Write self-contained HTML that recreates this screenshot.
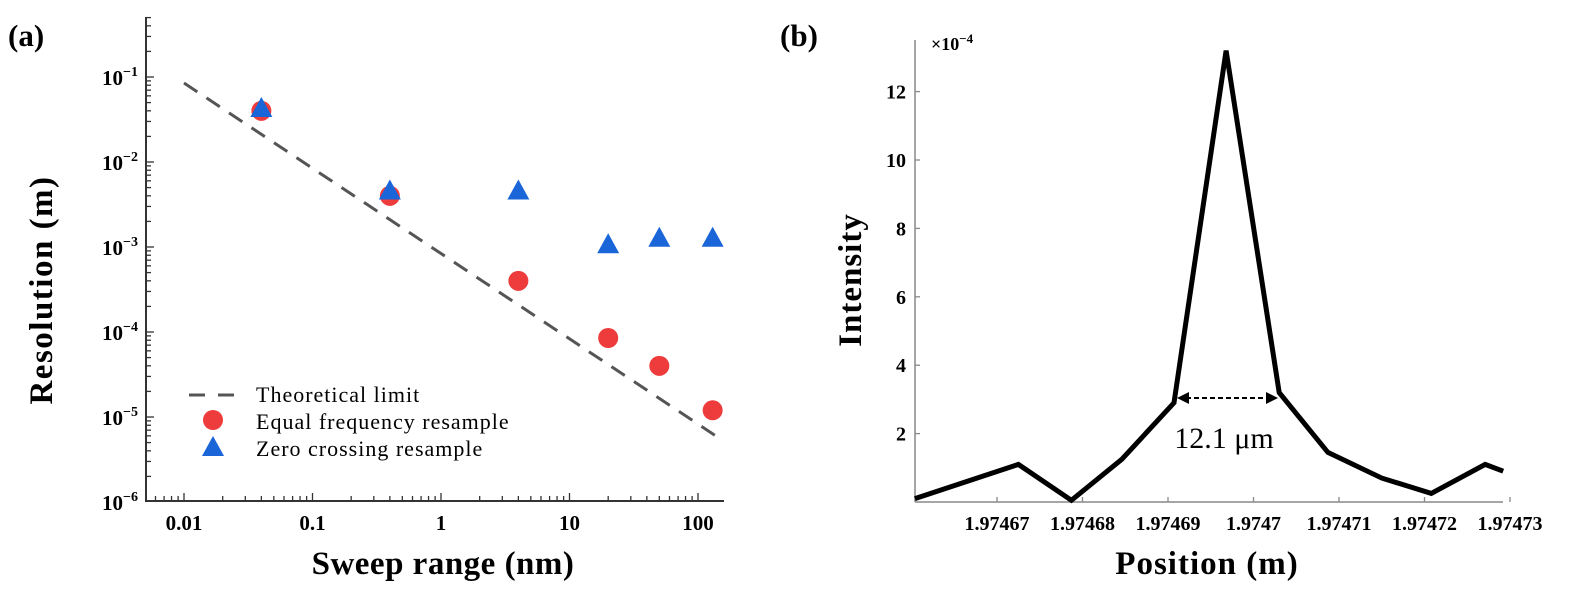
<!DOCTYPE html>
<html><head><meta charset="utf-8"><style>
body{margin:0;background:#fff}
svg{display:block;font-family:"Liberation Serif",serif}
</style></head><body>
<svg id="fig" width="1570" height="594" viewBox="0 0 1570 594">
<text x="8" y="46" font-size="31" font-weight="bold">(a)</text>
<text x="780" y="46" font-size="31" font-weight="bold">(b)</text>
<g id="pa"></g>
<g id="pb"></g>
</svg>
<script>
const NS="http://www.w3.org/2000/svg";
// Panel (a) data
const sweepRange=[0.04,0.4,4,20,50,130];
const equalFreq=[0.04,0.004,4e-4,8.5e-5,4e-5,1.2e-5];
const zeroCross=[0.042,0.0045,0.0045,1.05e-3,1.25e-3,1.25e-3];
const theoryX=[0.01,150];
const theoryY=[0.085,5.5e-6];
const xTickVals=[0.01,0.1,1,10,100];
const xTickLabels=["0.01","0.1","1","10","100"];
const yTickExp=[-1,-2,-3,-4,-5,-6];
// Panel (b) data
const positions=[1.9746604,1.9746725,1.9746787,1.9746846,1.9746907,1.9746968,1.974703,1.9747087,1.974715,1.9747208,1.9747271,1.9747292];
const intensity=[0.1,1.1,0.05,1.25,2.9,13.2,3.2,1.45,0.7,0.25,1.1,0.9];
const bXTicks=[1.97467,1.97468,1.97469,1.9747,1.97471,1.97472,1.97473];
const bXLabels=["1.97467","1.97468","1.97469","1.9747","1.97471","1.97472","1.97473"];
const bYTicks=[2,4,6,8,10,12];

function el(tag,attrs,parent,text){const e=document.createElementNS(NS,tag);for(const k in attrs)e.setAttribute(k,attrs[k]);if(text!==undefined)e.textContent=text;parent.appendChild(e);return e;}

// ---- Panel a
const pa=document.getElementById('pa');
const ax=v=>184+(Math.log10(v)+2)*128.5;
const ay=v=>77+(-1-Math.log10(v))*85;
let l=el('line',{x1:146,y1:17,x2:146,y2:501,stroke:'#333','stroke-width':2},pa);


l=el('line',{x1:145,y1:501,x2:724,y2:501,stroke:'#333','stroke-width':2},pa);


for(let d=-7;d<=-1;d++){for(let m=1;m<10;m++){const v=m*Math.pow(10,d);const y=ay(v);if(y<17||y>501)continue;
 const t=el('line',{x1:146,x2:146+(m==1?8:5),y1:y,y2:y,stroke:'#333','stroke-width':1.3},pa);
 
 }}
for(let d=-3;d<=2;d++){for(let m=1;m<10;m++){const v=m*Math.pow(10,d);const x=ax(v);if(x<146||x>724)continue;
 const t=el('line',{x1:x,x2:x,y1:501,y2:501-(m==1?8:5),stroke:'#333','stroke-width':1.3},pa);
 
 }}
yTickExp.forEach(e=>{const t=el('text',{x:138,y:ay(Math.pow(10,e))+8,'font-size':21,'font-weight':'bold','text-anchor':'end'},pa);
 
 
 t.textContent='10';el('tspan',{dy:-9,'font-size':14},t,'−'+(-e));});
xTickVals.forEach((v,i)=>{const t=el('text',{x:ax(v),y:530,'font-size':21,'font-weight':'bold','text-anchor':'middle'},pa,xTickLabels[i]);
 
 });
let t=el('text',{x:443,y:574,'font-size':33,'font-weight':'bold','text-anchor':'middle','letter-spacing':0.5},pa,'Sweep range (nm)');


t=el('text',{x:0,y:0,'font-size':33,'font-weight':'bold','text-anchor':'middle','letter-spacing':1.5,transform:'translate(52,290) rotate(-90)'},pa,'Resolution  (m)');


l=el('line',{x1:ax(theoryX[0]),y1:ay(theoryY[0]),x2:ax(theoryX[1]),y2:ay(theoryY[1]),stroke:'#555','stroke-width':3,'stroke-dasharray':'16,11'},pa);


sweepRange.forEach((x,i)=>{const c=el('circle',{cx:ax(x),cy:ay(equalFreq[i]),r:10,fill:'#ee3b3b'},pa);
 
 });
sweepRange.forEach((x,i)=>{const X=ax(x),Y=ay(zeroCross[i]);const p=el('polygon',{points:`${X},${Y-12} ${X-11},${Y+8} ${X+11},${Y+8}`,fill:'#1a66d9'},pa);
 
 });
const lg=el('g',{},pa);


el('line',{x1:189,y1:395,x2:236,y2:395,stroke:'#555','stroke-width':3,'stroke-dasharray':'16,13'},lg);
el('circle',{cx:213,cy:420,r:10,fill:'#ee3b3b'},lg);
el('polygon',{points:'213,436 202,456 224,456',fill:'#1a66d9'},lg);
[['Theoretical limit',402],['Equal frequency resample',429],['Zero crossing resample',456]].forEach(a=>{const tt=el('text',{x:256,y:a[1],'font-size':22,'letter-spacing':1},lg,a[0]);
 
 });

// ---- Panel b
const pb=document.getElementById('pb');
const bx=v=>997+(v-1.97467)/1e-5*85.5;
const by=v=>502-v*34.2;
l=el('line',{x1:915,y1:40,x2:915,y2:502,stroke:'#888','stroke-width':1.5},pb);


l=el('line',{x1:915,y1:502,x2:1503,y2:502,stroke:'#888','stroke-width':1.5},pb);


bYTicks.forEach(v=>{const y=by(v);el('line',{x1:915,x2:920,y1:y,y2:y,stroke:'#888','stroke-width':1.3},pb);
 const tt=el('text',{x:906,y:y+7,'font-size':20,'font-weight':'bold','text-anchor':'end'},pb,String(v));
 
 });
bXTicks.forEach((v,i)=>{const x=bx(v);el('line',{x1:x,x2:x,y1:502,y2:497,stroke:'#888','stroke-width':1.3},pb);
 const tt=el('text',{x:x,y:530,'font-size':20,'font-weight':'bold','text-anchor':'middle'},pb,bXLabels[i]);
 
 });
t=el('text',{x:931,y:50,'font-size':18,'font-weight':'bold'},pb,'×10');


el('tspan',{dy:-7,'font-size':13},t,'−4');
t=el('text',{x:1207,y:574,'font-size':33,'font-weight':'bold','text-anchor':'middle','letter-spacing':1},pb,'Position (m)');


t=el('text',{x:0,y:0,'font-size':33,'font-weight':'bold','text-anchor':'middle','letter-spacing':1,transform:'translate(861,280) rotate(-90)'},pb,'Intensity');


const pts=positions.map((p,i)=>bx(p).toFixed(1)+','+by(intensity[i]).toFixed(1)).join(' ');
l=el('polyline',{points:pts,fill:'none',stroke:'#000','stroke-width':5,'stroke-linejoin':'miter'},pb);


const ay2=398;
l=el('line',{x1:1186,y1:ay2,x2:1268,y2:ay2,stroke:'#000','stroke-width':2,'stroke-dasharray':'5,3'},pb);


el('polygon',{points:`1177,${ay2} 1189,${ay2-6} 1189,${ay2+6}`,fill:'#000'},pb);
el('polygon',{points:`1278,${ay2} 1266,${ay2-6} 1266,${ay2+6}`,fill:'#000'},pb);
t=el('text',{x:1224,y:448,'font-size':30,'text-anchor':'middle'},pb,'12.1 μm');


</script>
</body></html>
